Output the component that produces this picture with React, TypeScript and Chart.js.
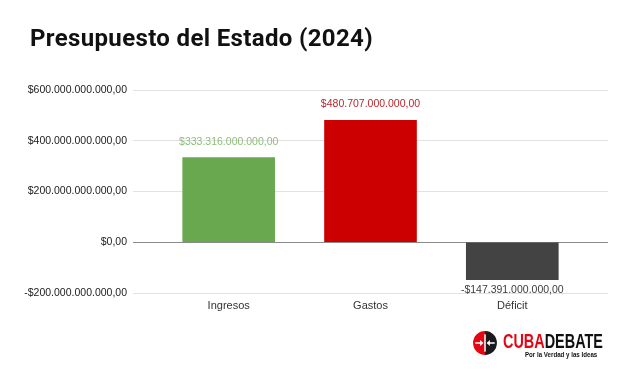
import React, { useEffect, useRef } from "react";
import { Chart, registerables } from "chart.js";

Chart.register(...registerables);

const title = "Presupuesto del Estado (2024)";
const categories = ["Ingresos", "Gastos", "Déficit"];
const values = [333316000000, 480707000000, -147391000000];
const barColors = ["#6aa84f", "#cc0000", "#434343"];
const labelColors = ["#8dbd79", "#b8282c", "#3c3c3c"];
const yTicks = [-200000000000, 0, 200000000000, 400000000000, 600000000000];

const FONT = "'Liberation Sans', Arial, sans-serif";

function fmt(v: number): string {
  const neg = v < 0;
  const abs = Math.abs(Math.round(v * 100));
  const intPart = Math.floor(abs / 100).toString();
  const dec = (abs % 100).toString().padStart(2, "0");
  const grouped = intPart.replace(/\B(?=(\d{3})+(?!\d))/g, ".");
  return (neg ? "-" : "") + "$" + grouped + "," + dec;
}

const dataLabelPlugin = {
  id: "dataLabels",
  afterDatasetsDraw(chart: any) {
    const ctx = chart.ctx;
    const meta = chart.getDatasetMeta(0);
    ctx.save();
    ctx.font = `10.5px ${FONT}`;
    ctx.textAlign = "center";
    ctx.textBaseline = "middle";
    meta.data.forEach((bar: any, i: number) => {
      const v = values[i];
      ctx.fillStyle = labelColors[i];
      const y = v >= 0 ? bar.y - 16 : bar.y + 10;
      ctx.fillText(fmt(v), bar.x, y);
    });
    ctx.restore();
  },
};

function Logo() {
  return (
    <div style={{ position: "absolute", left: 472, top: 330, width: 140, height: 30 }}>
      <svg width={26} height={26} style={{ position: "absolute", left: 0, top: 0 }} viewBox="0 0 24 24">
        <path d="M12 1 A11 11 0 0 0 12 23 Z" fill="#e30613" />
        <path d="M12 1 A11 11 0 0 1 12 23 Z" fill="#1a1a1a" />
        <rect x={11.3} y={4} width={1.4} height={16} fill="#fff" />
        <rect x={3} y={11.3} width={6.5} height={1.4} fill="#fff" />
        <path d="M10.5 12 L7.5 9.3 L7.5 14.7 Z" fill="#fff" />
        <rect x={14.5} y={11.3} width={6.5} height={1.4} fill="#fff" />
        <path d="M13.5 12 L16.5 9.3 L16.5 14.7 Z" fill="#fff" />
      </svg>
      <div
        style={{
          position: "absolute",
          left: 31,
          top: 2,
          fontFamily: "'Liberation Sans', Arial, sans-serif",
          fontWeight: 700,
          fontSize: 19.5,
          lineHeight: "19px",
          whiteSpace: "nowrap",
          transform: "scaleX(0.74)",
          transformOrigin: "left top",
        }}
      >
        <span style={{ color: "#e30613" }}>CUBA</span>
        <span style={{ color: "#111" }}>DEBATE</span>
      </div>
      <div
        style={{
          position: "absolute",
          left: 53,
          top: 21,
          fontFamily: "'Liberation Sans', Arial, sans-serif",
          fontWeight: 700,
          fontSize: 8,
          lineHeight: "8px",
          color: "#111",
          whiteSpace: "nowrap",
          transform: "scaleX(0.77)",
          transformOrigin: "left top",
        }}
      >
        Por la Verdad y las Ideas
      </div>
    </div>
  );
}

export default function App() {
  const canvasRef = useRef<HTMLCanvasElement | null>(null);

  useEffect(() => {
    if (!canvasRef.current) return;
    const chart = new Chart(canvasRef.current, {
      type: "bar",
      data: {
        datasets: [
          {
            data: values.map((v, i) => ({ x: i, y: v })),
            backgroundColor: barColors,
            borderWidth: 0,
            barThickness: 92,
          },
        ],
      },
      options: {
        responsive: false,
        animation: false,
        layout: { padding: { left: 0, right: 32, top: 90, bottom: 0 } },
        plugins: {
          legend: { display: false },
          tooltip: { enabled: false },
          title: { display: false },
        },
        scales: {
          x: {
            type: "linear",
            offset: false,
            min: -0.675,
            max: 2.675,
            afterBuildTicks: (scale: any) => {
              scale.ticks = categories.map((_, i) => ({ value: i }));
            },
            afterFit: (scale: any) => {
              scale.height = 81;
            },
            ticks: {
              callback: (v: any) => categories[v as number] ?? "",
              color: "#333",
              font: { family: FONT, size: 11 },
              padding: 6,
              maxRotation: 0,
              autoSkip: false,
            },
            grid: { display: false, drawTicks: false, offset: false },
            border: { display: false },
          },
          y: {
            min: yTicks[0],
            max: yTicks[yTicks.length - 1],
            afterBuildTicks: (scale: any) => {
              scale.ticks = yTicks.map((v) => ({ value: v }));
            },
            afterFit: (scale: any) => {
              scale.width = 133;
            },
            ticks: {
              callback: (v: any) => fmt(Number(v)),
              color: "#222",
              font: { family: FONT, size: 10.5 },
              padding: 6,
            },
            grid: {
              drawTicks: false,
              color: (ctx: any) => (ctx.tick && ctx.tick.value === 0 ? "#8a8a8a" : "#e2e2e2"),
              lineWidth: 1,
            },
            border: { display: false },
          },
        },
      },
      plugins: [dataLabelPlugin],
    });
    return () => chart.destroy();
  }, []);

  return (
    <div
      style={{
        position: "fixed",
        left: 0,
        top: 0,
        width: 640,
        height: 374,
        background: "#fff",
        overflow: "hidden",
      }}
    >
      <canvas ref={canvasRef} width={640} height={374} style={{ position: "absolute", left: 0, top: 0 }} />
      <div
        style={{
          position: "absolute",
          left: 30,
          top: 26,
          fontFamily: "Roboto, 'Liberation Sans', Arial, sans-serif",
          fontWeight: 700,
          fontSize: 24,
          lineHeight: "24px",
          letterSpacing: 0.35,
          color: "#111",
          whiteSpace: "nowrap",
        }}
      >
        {title}
      </div>
      <Logo />
    </div>
  );
}
